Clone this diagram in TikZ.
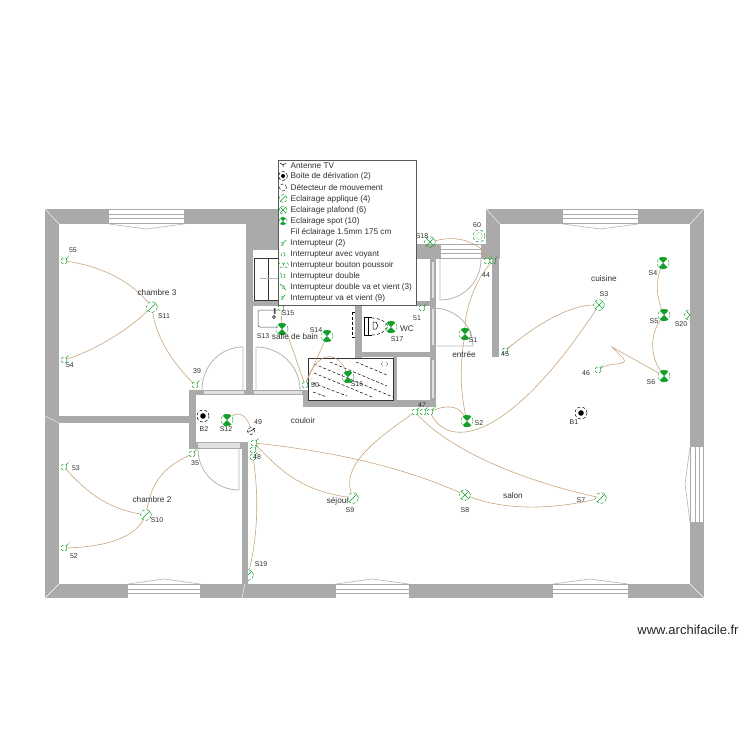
\documentclass[tikz,border=0pt]{standalone}
\usepackage{fontspec}
\setmainfont{Liberation Sans}
\definecolor{wallgray}{HTML}{AAAAAA}
\definecolor{doorgray}{HTML}{B4B4B4}
\definecolor{lampgreen}{HTML}{12A02A}
\definecolor{wirebrown}{HTML}{C8A47E}
\definecolor{textgray}{HTML}{303030}
\tikzset{
  wall/.style={fill=wallgray, draw=none},
  doorline/.style={draw=doorgray, line width=0.8pt},
  glass/.style={fill=white, draw=none},
  wire/.style={draw=wirebrown, line width=0.6pt},
  lampspot/.style={circle, draw=lampgreen, densely dashed, line width=0.4pt, minimum size=12pt, inner sep=0pt,
    path picture={\fill[lampgreen] (path picture bounding box.north west) -- (path picture bounding box.north east)
      -- (path picture bounding box.south west) -- (path picture bounding box.south east) -- cycle;}},
  lampceil/.style={circle, draw=lampgreen, densely dashed, line width=0.5pt, minimum size=11pt, inner sep=0pt,
    path picture={\draw[lampgreen, solid, line width=0.5pt] (path picture bounding box.north west) -- (path picture bounding box.south east)
      (path picture bounding box.north east) -- (path picture bounding box.south west);}},
  lampwall/.style={circle, draw=lampgreen, densely dashed, line width=0.5pt, minimum size=11pt, inner sep=0pt,
    path picture={\draw[lampgreen, solid, line width=0.5pt] (path picture bounding box.north east) -- (path picture bounding box.south west);}},
  switchmark/.style={circle, draw=lampgreen, densely dashed, line width=0.5pt, minimum size=6pt, inner sep=0pt},
  boxmark/.style={circle, draw=black, densely dashed, line width=0.5pt, minimum size=12pt, inner sep=0pt,
    path picture={\fill[black] (path picture bounding box.center) circle (2.8pt);}},
  tinylabel/.style={font=\fontsize{7}{8}\selectfont, text=textgray, inner sep=0pt},
  roomlabel/.style={font=\fontsize{8.2}{9}\selectfont, text=textgray, inner sep=0pt},
  legendtext/.style={font=\fontsize{8.2}{9}\selectfont, text=textgray, inner sep=0pt, anchor=west},
}

\begin{document}
\begin{tikzpicture}[x=1pt,y=-1pt]
\useasboundingbox (0,0) rectangle (750,750);

% Lampes coupees par le mur
\node[lampwall] (s19) at (248,575) {};
\node[lampceil] (s20) at (690,315) {};

% Murs
\foreach \xa/\ya/\xb/\yb in {45/209/59/598, 45/209/278/224, 247/224/278/250, 246/224/253/390,
    246/301/355/306, 355/301/362/358, 355/352/436/357, 416/301/436/306, 416/244/500/259,
    486/209/500/259, 492/259/499/357, 486/209/704/224, 690/209/704/598, 45/584/704/598,
    59/416/189/423, 189/390/196/449, 189/390/303/395, 189/442/248/449, 242/442/248/598,
    303/390/308/407, 303/400/436/407, 393/357/397/400, 430/244/436/407}
  \fill[wall] (\xa,\ya) rectangle (\xb,\yb);

% Onglets des angles
\draw[white, line width=0.4pt] (45,209) -- (59,224) (704,209) -- (690,224) (486,209) -- (500,224)
  (45,598) -- (59,584) (704,598) -- (690,584) (45,416) -- (59,423) (242,598) -- (245,584);

% Fenetres horizontales
\foreach \xa/\xb/\ya in {109/184/210, 563/638/210, 128/200/585, 336/409/585, 553/628/585, 441/481/245} {
  \fill[glass] (\xa,\ya) rectangle (\xb,\ya+13);
  \draw[wallgray, line width=0.7pt] (\xa,\ya+4) -- (\xb,\ya+4) (\xa,\ya+8) -- (\xb,\ya+8);
}
\draw[doorgray, line width=0.6pt] (109,224) -- (146.5,229) -- (184,224);
\draw[doorgray, line width=0.6pt] (563,224) -- (600.5,229) -- (638,224);
\draw[doorgray, line width=0.6pt] (128,584) -- (164,579) -- (200,584);
\draw[doorgray, line width=0.6pt] (336,584) -- (372,579) -- (409,584);
\draw[doorgray, line width=0.6pt] (553,584) -- (590,579) -- (628,584);

% Fenetre droite
\fill[glass] (691,447) rectangle (703,522);
\draw[wallgray, line width=0.7pt] (695,447) -- (695,522) (699,447) -- (699,522);
\draw[doorgray, line width=0.6pt] (690,447) -- (685,484) -- (690,522);

% Ouvertures des portes
\foreach \xa/\ya/\xb/\yb in {204/391/244/394, 254/391/302/394, 198/443/240/448,
    432/262/434/298, 432/309/434/345, 432/360/434/398}
  \fill[white!65!wallgray] (\xa,\ya) rectangle (\xb,\yb);

% Portes
\draw[doorline] (243,390) -- (243,347) .. controls (220,347) and (202,366) .. (202,390);
\draw[doorline] (256,390) -- (256,347) .. controls (280,347) and (300,366) .. (300,390);
\draw[doorline] (239,449) -- (239,490) .. controls (216,490) and (198,472) .. (198,449);
\draw[doorline] (440,259) -- (440,300) .. controls (463,300) and (481,282) .. (481,259);
\draw[doorline] (473,346) -- (435,346) (433,308) .. controls (455,308) and (473,325) .. (473,346);

% Douche
\draw[black!80, line width=0.9pt] (308,358) rectangle (393,400);
\foreach \xa/\ya/\xb/\yb in {356/362/387/375, 330/362/387/386, 314/364/393/397, 314/373/372/397, 313/383/347/396, 313/392/327/397}
  \draw[black, densely dashed, line width=0.5pt] (\xa,\ya) -- (\xb,\yb);
\draw[black, densely dotted, line width=0.5pt] (383,362) -- (381,364) -- (383,366) (386,362) -- (388,364) -- (386,366);

% Placard et lavabo
\draw[black!80, line width=0.7pt] (254,258) rectangle (278,300) (268,258) -- (268,300);
\draw[doorgray, line width=0.6pt] (260,278) -- (278,278);
\draw[black!70, line width=0.5pt, rounded corners=2pt] (278,310) -- (258,310) -- (258,327) -- (278,327);
\draw[black, line width=0.5pt] (274,317) circle (1.5pt) (274,308) -- (274,314) (275,308) -- (275,314);

% Meuble et WC
\draw[black, densely dashed, line width=0.4pt] (352,312) -- (352,337) (352,312) -- (355,312) (352,337) -- (355,337);
\draw[black, line width=0.5pt] (364,317) -- (364,335) (368,317) -- (368,335) (364,317) -- (372,317) (364,335) -- (372,335);
\draw[black, densely dashed, line width=0.5pt] (372,318) .. controls (380,318) and (386,322) .. (388,326) .. controls (386,331) and (380,335) .. (372,335);
\draw[black, line width=0.5pt] (373,322) -- (376,322) -- (378,326) -- (376,329) -- (373,329) -- cycle;

% Lampes
\foreach \name/\x/\y in {s1/465/334, s2/467/421, s4/663/263, s5/664/315, s6/664/376, s12/227/420,
    s13/282/329, s14/327/336, s16/348/377, s17/391/327}
  \node[lampspot] (\name) at (\x,\y) {};
\foreach \name/\x/\y in {s3/599/305, s8/465/495, s18/430/242}
  \node[lampceil] (\name) at (\x,\y) {};
\foreach \name/\x/\y in {s7/601/498, s9/353/498, s10/146/515, s11/152/307}
  \node[lampwall] (\name) at (\x,\y) {};
\node[boxmark] (b1) at (581,413) {};
\node[boxmark] (b2) at (203,416) {};

% Interrupteurs
\foreach \name/\x/\y in {i55/64/261, i54/64/360, i53/64/467, i52/64/548, i39/195/385, i35/192/454,
    i48a/254/443, i48b/253/450, i48c/253/457, i44a/487/261, i44b/493/261, i45/505/351, i46/598/370,
    i47a/415/412, i47b/423/412, i47c/430/412, i50/305/385, i51/422/308, i15/281/308} {
  \node[switchmark] (\name) at (\x,\y) {};
  \draw[lampgreen, densely dashed, line width=0.5pt] (\name.45) -- ++(4,-4);
}
\node[circle, draw=lampgreen, densely dashed, line width=0.5pt, minimum size=12pt, inner sep=0pt] (i60) at (479,236) {};
\draw[lampgreen, densely dotted, line width=0.4pt] (i60) circle (3.5pt);
\node[circle, draw=black, densely dashed, line width=0.5pt, minimum size=7pt, inner sep=0pt] (d49) at (251,431) {};
\draw[black, line width=0.5pt] (d49.west) -- (d49.center) (d49.center) -- ++(4,-3);

% Fils
\draw[wire] (i55) .. controls (95,265) and (128,278) .. (s11);
\draw[wire] (i54) .. controls (95,350) and (125,332) .. (s11);
\draw[wire] (s11) .. controls (156,335) and (170,360) .. (i39);
\draw[wire] (i53) .. controls (85,490) and (105,508) .. (s10);
\draw[wire] (i52) .. controls (100,547) and (132,540) .. (s10);
\draw[wire] (s10) .. controls (152,480) and (165,467) .. (i35);
\draw[wire] (s12) .. controls (240,410) and (248,418) .. (d49);
\draw[wire] (i48c) .. controls (258,490) and (259,530) .. (s19);
\draw[wire] (i48a) .. controls (280,470) and (300,490) .. (s9);
\draw[wire] (i48a) .. controls (340,452) and (410,470) .. (s8);
\draw[wire] (s8) .. controls (505,510) and (550,510) .. (s7);
\draw[wire] (i47a) .. controls (450,450) and (520,480) .. (s7);
\draw[wire] (i47a) .. controls (375,440) and (342,465) .. (s9);
\draw[wire] (i47c) .. controls (445,405) and (458,405) .. (s2);
\draw[wire] (i47c) .. controls (450,450) and (510,440) .. (s3);
\draw[wire] (s2) .. controls (460,390) and (460,365) .. (s1);
\draw[wire] (s1) .. controls (465,310) and (475,280) .. (i44b);
\draw[wire] (s18) .. controls (462,234) and (480,245) .. (i44b);
\draw[wire] (i45) .. controls (535,325) and (570,305) .. (s3);
\draw[wire] (i46) .. controls (610,362) and (630,366) .. (623,358) -- (612,347) -- (s6);
\draw[wire] (s4) .. controls (656,280) and (656,295) .. (s5);
\draw[wire] (s5) .. controls (650,335) and (650,355) .. (s6);
\draw[wire] (i50) .. controls (298,365) and (288,335) .. (s13);
\draw[wire] (s13) -- (i15);
\draw[wire] (i50) -- (s14);
\draw[wire] (i50) .. controls (320,345) and (340,355) .. (s16);

% Reperes
\foreach \t/\x/\y in {55/73/250, 54/70/365, 53/76/468, 52/74/556, S11/164/316, 39/197/371, B2/204/429,
    S12/226/429, 49/258/422, 48/257/457, 35/195/463, S10/157/520, S19/261/564, S9/350/510, S8/465/510,
    S7/581/500, 47/422/405, S2/479/423, B1/574/422, S1/473/340, 45/505/354, S3/604/294, S4/653/273,
    S5/654/321, S6/651/382, S20/681/324, 46/586/373, 44/486/275, 60/477/225, S18/422/236, 51/417/318,
    S17/397/339, S14/316/330, S15/288/313, S13/263/336, S16/357/384, 50/315/385}
  \node[tinylabel] (lbl\t) at (\x,\y) {\t};

% Pieces
\foreach \t/\x/\y in {chambre 3/157/293, chambre 2/152/500, couloir/303/421, séjour/338/501, salon/513/496,
    entrée/464/355, cuisine/604/279, WC/407/329, salle de bain/295/337}
  \node[roomlabel] (room\t) at (\x,\y) {\t};

% Legende
\fill[white] (278,160) rectangle (416,305);
\foreach \t [count=\i from 0] in {Antenne TV, Boite de dérivation (2), Détecteur de mouvement, Eclairage applique (4),
    Eclairage plafond (6), Eclairage spot (10), Fil éclairage 1.5mm 175 cm, Interrupteur (2), Interrupteur avec voyant,
    Interrupteur bouton poussoir, Interrupteur double, Interrupteur double va et vient (3), Interrupteur va et vient (9)}
  \node[legendtext] (leg\i) at (290.5,165.6+\i*11.1) {\t};
\draw[black!65, line width=1pt] (278,160) rectangle (416,305);

% Icones de la legende
\coordinate (ant) at (283,165);
\draw[black, line width=0.5pt] (ant) -- ++(-3,-2) (ant) -- ++(3,-2) (ant) -- ++(0,2);
\node[boxmark, minimum size=9pt, path picture={\fill[black] (path picture bounding box.center) circle (2pt);}] (ic1) at (283,176) {};
\node[circle, draw=black, densely dashed, line width=0.4pt, minimum size=7pt, inner sep=0pt] (ic2) at (283,187.5) {};
\node[lampwall, minimum size=8pt] (ic3) at (283,198.5) {};
\node[lampceil, minimum size=8pt] (ic4) at (283,210) {};
\node[lampspot, minimum size=8pt] (ic5) at (283,221) {};
\node[switchmark, minimum size=3pt] (ic7) at (282,244) {};
\draw[lampgreen, line width=0.4pt] (ic7) -- ++(4,-4);
\node[switchmark, minimum size=4pt] (ic8) at (283,254.5) {};
\node[switchmark, minimum size=5pt] (ic9) at (281,265) {};
\node[switchmark, minimum size=5pt] (ic9b) at (286,265) {};
\node[switchmark, minimum size=4pt] (ic10) at (283,276) {};
\draw[lampgreen, densely dashed, line width=0.4pt] (ic10) -- ++(-3,-3);
\node[switchmark, minimum size=3pt] (ic11) at (283,287) {};
\draw[lampgreen, densely dashed, line width=0.4pt] (ic11) -- ++(-4,-4) (ic11) -- ++(3,3);
\node[switchmark, minimum size=3pt] (ic12) at (282,298) {};
\draw[lampgreen, densely dashed, line width=0.4pt] (ic12) -- ++(4,-4);

% Filigrane
\node[font=\fontsize{13}{15}\selectfont, text=black!85, inner sep=0pt] (mark) at (688,630) {www.archifacile.fr};
\end{tikzpicture}
\end{document}
